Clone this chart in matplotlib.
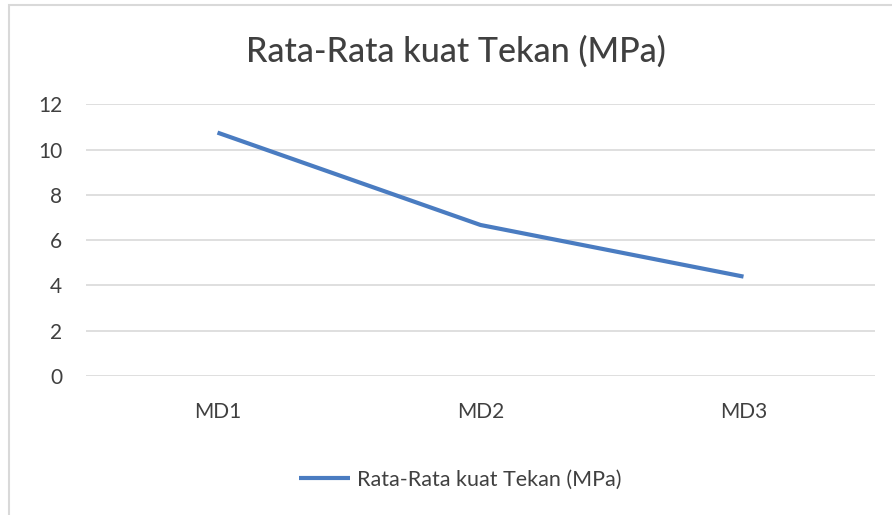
import matplotlib
matplotlib.use("Agg")
import matplotlib.pyplot as plt
from matplotlib.patches import Rectangle

categories = ["MD1", "MD2", "MD3"]
values = [10.75, 6.67, 4.39]
yticks = [0, 2, 4, 6, 8, 10, 12]
series_name = "Rata-Rata kuat Tekan (MPa)"
title = "Rata-Rata kuat Tekan (MPa)"

plt.rcParams['font.family'] = ['Lato', 'DejaVu Sans']

W, H = 892, 515
fig = plt.figure(figsize=(W/100, H/100), dpi=100)
fig.patch.set_facecolor('white')

# chart border
fig.patches.append(Rectangle((9/W, -0.1), 1.2, 1 - 5/H + 0.1, transform=fig.transFigure,
                             fill=False, edgecolor='#d9d9d9', linewidth=1.5, zorder=0))

ax = fig.add_axes([86/W, 1 - 376/H, (875 - 86)/W, (376 - 104.3)/H])
x = list(range(len(categories)))
line, = ax.plot(x, values, color='#4a7cc1', linewidth=3.0, solid_capstyle='butt',
                label=series_name)
ax.set_xlim(-0.5, len(categories) - 0.5)
ax.set_ylim(0, 12)
ax.set_yticks(yticks)
ax.set_yticklabels([str(v) for v in yticks])
ax.set_xticks(x)
ax.set_xticklabels(categories)
ax.tick_params(axis='both', length=0, colors='#404040', labelsize=15)
ax.tick_params(axis='y', pad=17)
ax.tick_params(axis='x', pad=19)
for s in ax.spines.values():
    s.set_visible(False)
ax.grid(axis='y', color='#d9d9d9', linewidth=1.2)
ax.set_axisbelow(True)

fig.text(456/W, 1 - 52/H, title, ha='center', va='center', fontsize=24.5,
         color='#404040', fontweight='medium')

leg = fig.legend(handles=[line], labels=[series_name], loc='center',
                 bbox_to_anchor=(460/W, 1 - 480/H), frameon=False,
                 prop={'size': 15.5},
                 handlelength=2.4, handletextpad=0.3, labelcolor='#404040')

fig.savefig("out.png", dpi=100)
